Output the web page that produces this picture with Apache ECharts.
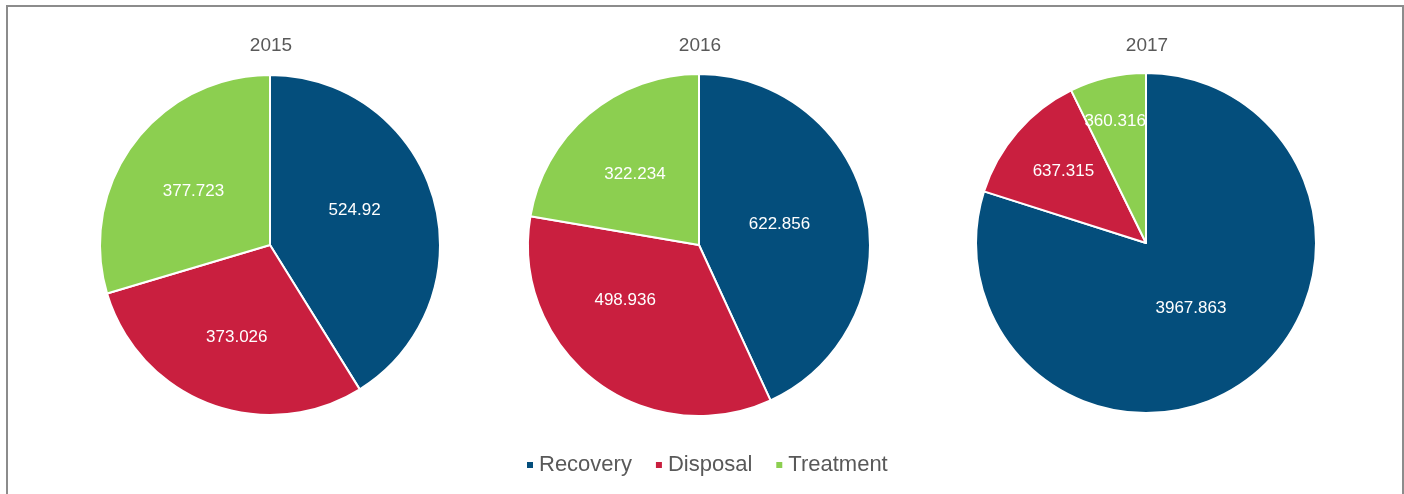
<!DOCTYPE html>
<html>
<head>
<meta charset="utf-8">
<script src="https://cdn.jsdelivr.net/npm/echarts@6/dist/echarts.min.js"></script>
<style>
  html, body { margin: 0; padding: 0; background: #fff; }
  #wrap { position: relative; width: 1404px; height: 494px; overflow: hidden; }
  #main { width: 1404px; height: 494px; }
  #frame { position: absolute; left: 6px; top: 5px; width: 1394px; height: 520px;
           border: 2px solid #8c8c8c; pointer-events: none; }
</style>
</head>
<body>
<div id="wrap">
  <div id="main"></div>
  <div id="frame"></div>
</div>
<script>
// 数据
const years = ['2015', '2016', '2017'];
const categories = ['Recovery', 'Disposal', 'Treatment'];
const recovery = [524.92, 622.856, 3967.863];
const disposal = [373.026, 498.936, 637.315];
const treatment = [377.723, 322.234, 360.316];
const colors = ['#044e7c', '#c91f3f', '#8ccf50'];

// 布局
const centers = [[270, 245], [699, 245], [1146, 243]];
const radii = [170, 171, 170];
// 标签微调 (Recovery, Disposal, Treatment)
const labelShift = [
  [[0, -11], [-2, 10], [-6, -1]],
  [[-6, -2], [-20, -15], [-7, -3]],
  [[-7, -6], [-16, -14], [-11, -36]]
];

const myChart = echarts.init(document.getElementById('main'));

let option = {
  color: colors,
  textStyle: { fontFamily: 'Liberation Sans, Arial, sans-serif' },
  title: years.map((y, i) => ({
    text: y,
    left: centers[i][0] - 4,
    top: 31,
    textAlign: 'center',
    textStyle: { color: '#595959', fontSize: 19, fontWeight: 'normal' }
  })),
  legend: {
    data: categories,
    left: 520,
    top: 449,
    icon: 'rect',
    itemWidth: 8,
    itemHeight: 8,
    itemGap: 22,
    textStyle: { color: '#595959', fontSize: 22 }
  },
  series: years.map((y, i) => ({
    name: y,
    type: 'pie',
    center: centers[i],
    radius: [0, radii[i]],
    startAngle: 90,
    clockwise: true,
    avoidLabelOverlap: false,
    itemStyle: { borderColor: '#fff', borderWidth: 2 },
    label: {
      show: true,
      position: 'inside',
      color: '#fff',
      fontSize: 17,
      formatter: '{c}'
    },
    labelLine: { show: false },
    emphasis: { scale: false },
    data: [recovery[i], disposal[i], treatment[i]].map((v, k) => ({
      name: categories[k],
      value: v,
      label: { offset: labelShift[i][k] }
    }))
  }))
};
myChart.setOption(option);
window.addEventListener('resize', function () {
  myChart.resize();
});
</script>
</body>
</html>
